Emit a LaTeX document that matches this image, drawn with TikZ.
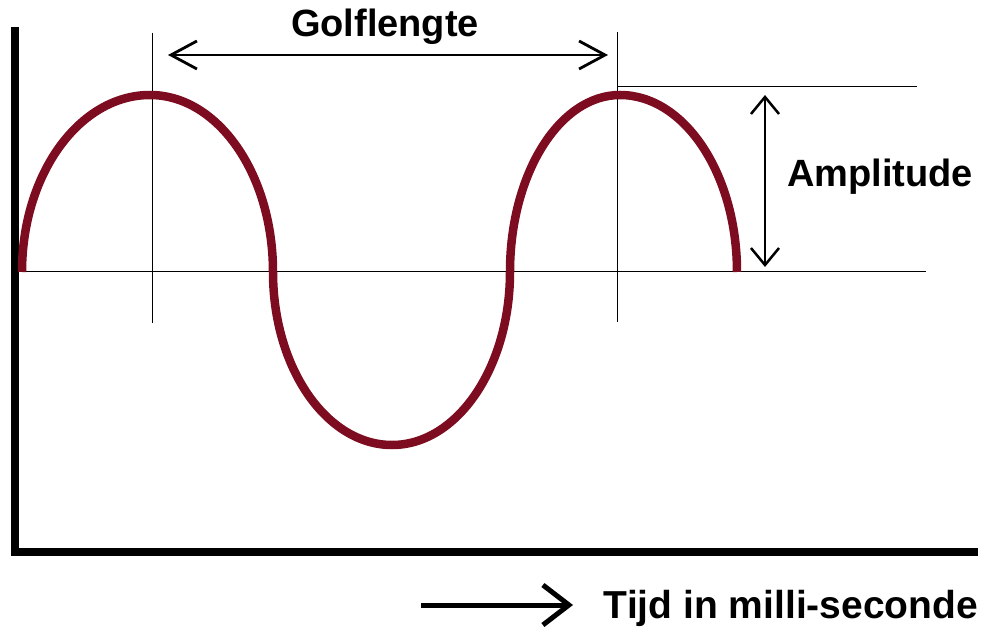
\documentclass[tikz,border=0pt]{standalone}
\usepackage{fontspec}
\setmainfont{Liberation Sans}
\usetikzlibrary{arrows.meta}
\definecolor{wavered}{RGB}{125,12,32}

\begin{document}
\begin{tikzpicture}[x=1pt,y=-1pt,
  axis/.style={line width=7.5pt,line join=miter},
  thin/.style={line width=1pt},
  wave/.style={draw=wavered,line width=8.5pt},
  dimarrow/.style={line width=2.8pt,{Straight Barb[length=26pt,width=28pt]}-{Straight Barb[length=26pt,width=28pt]}},
  amparrow/.style={line width=2.5pt,{Straight Barb[length=17pt,width=28pt]}-{Straight Barb[length=17pt,width=28pt]}},
  timearrow/.style={line width=5pt,-{Straight Barb[length=26pt,width=40pt]}},
  lbl/.style={font=\bfseries\fontsize{38}{41}\selectfont,inner sep=0pt,anchor=base}]
\useasboundingbox (0,0) rectangle (989,644);

\coordinate (0) at (15,27);
\coordinate (1) at (15,552);
\coordinate (2) at (978,552);
\coordinate (3) at (15,272);
\coordinate (4) at (926,272);
\coordinate (5) at (152,33);
\coordinate (6) at (152,323);
\coordinate (7) at (617,32);
\coordinate (8) at (617,322);
\coordinate (9) at (618,87);
\coordinate (10) at (917,87);
\coordinate (11) at (168,55);
\coordinate (12) at (608,55);
\coordinate (13) at (765,95);
\coordinate (14) at (765,267);
\coordinate (15) at (421,605);
\coordinate (16) at (573,605);
\coordinate (w) at (22,272);

\node[lbl] (golf) at (385,37) {Golflengte};
\node[lbl] (amp) at (880,187) {Amplitude};
\node[lbl,font=\bfseries\fontsize{39}{42}\selectfont] (tijd) at (791,618) {Tijd in milli-seconde};

\draw[axis] (0) -- (1) -- (2);
\draw[thin] (3) -- (4);
\draw[thin] (5) -- (6);
\draw[thin] (7) -- (8);
\draw[thin] (9) -- (10);
\draw[dimarrow] (11) -- (12);
\draw[amparrow] (13) -- (14);
\draw[timearrow] (15) -- (16);

\draw[wave] (w)
  arc[start angle=180,end angle=270,x radius=128,y radius=177]
  arc[start angle=270,end angle=360,x radius=123,y radius=177]
  arc[start angle=180,end angle=90,x radius=119,y radius=173]
  arc[start angle=90,end angle=0,x radius=118,y radius=173]
  arc[start angle=180,end angle=270,x radius=110,y radius=177]
  arc[start angle=270,end angle=360,x radius=117,y radius=177];
\end{tikzpicture}
\end{document}
